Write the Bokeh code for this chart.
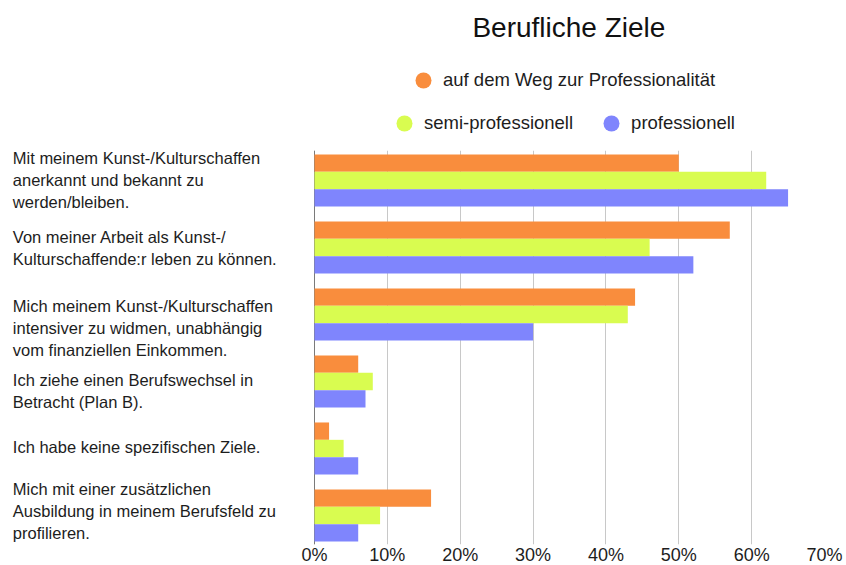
from bokeh.plotting import figure
from bokeh.layouts import column
from bokeh.models import (ColumnDataSource, FixedTicker, PrintfTickFormatter, Span,
                          Label, Legend, LegendItem, Range1d)
from bokeh.core.properties import value
from bokeh.embed import file_html
from bokeh.resources import INLINE

# ---------------- data ----------------
categories = [
    "Mit meinem Kunst-/Kulturschaffen\nanerkannt und bekannt zu\nwerden/bleiben.",
    "Von meiner Arbeit als Kunst-/\nKulturschaffende:r leben zu können.",
    "Mich meinem Kunst-/Kulturschaffen\nintensiver zu widmen, unabhängig\nvom finanziellen Einkommen.",
    "Ich ziehe einen Berufswechsel in\nBetracht (Plan B).",
    "Ich habe keine spezifischen Ziele.",
    "Mich mit einer zusätzlichen\nAusbildung in meinem Berufsfeld zu\nprofilieren.",
]
weg = [50, 57, 44, 6, 2, 16]
semi = [62, 46, 43, 8, 4, 9]
prof = [65, 52, 30, 7, 6, 6]
series_names = ["auf dem Weg zur Professionalität", "semi-professionell", "professionell"]
colors = ["#F98D3D", "#D9FC50", "#7F85FD"]
x_ticks = [0, 10, 20, 30, 40, 50, 60, 70]
title_text = "Berufliche Ziele"

# ---------------- layout constants ----------------
FONT = "Liberation Sans"
TEXT = "#1d1d1d"
W, H = 846, 565
TOP_H = 146                 # header (title + legend)
LEFT_W = 314                # space for category labels (left of 0 %)
BAR_W = 510                 # pixel width of 0..70 %
RIGHT_B = W - LEFT_W - BAR_W
BORDER_TOP = 4
TOP_GAP = 4                 # frame pixels above first bar group
BOTTOM_GAP = 3              # frame pixels below last bar group
FRAME_H = 394
BAR_H = 0.259
PAD = 0.388
n = len(categories)
PITCH = (FRAME_H - TOP_GAP - BOTTOM_GAP) / (n - 1 + 2 * PAD)
PX_PER_UNIT = BAR_W / x_ticks[-1]
X_START = -LEFT_W / PX_PER_UNIT
label_dy = [-0.47, -0.2925, -0.267, -0.152, -0.158, -0.536]
LABEL_X_PX = 12.3
HEAD_W = W - RIGHT_B        # header frame width (frames are aligned in the column)

# ---------------- header: title + legend ----------------
top = figure(width=W, height=TOP_H, x_range=Range1d(0, HEAD_W), y_range=Range1d(TOP_H, 0),
             x_axis_type=None, y_axis_type=None, min_border=0, min_border_right=RIGHT_B,
             title=None, output_backend="svg", toolbar_location=None)
top.grid.visible = False
top.outline_line_color = None
top.add_layout(Label(x=568.4, y=27.2, text=title_text, text_align="center",
                     text_baseline="middle", text_font=FONT, text_font_size="28px",
                     text_color="#111111"))
nan = float("nan")
dummies = [top.scatter(x=[nan], y=[nan], marker="circle", size=16,
                       fill_color=c, line_color=None) for c in colors]
common = dict(orientation="horizontal", padding=0, spacing=18, margin=0,
              glyph_width=40, glyph_height=40, label_standoff=0,
              label_text_font=FONT, label_text_font_size="18.5px", label_text_color=TEXT,
              border_line_color=None, background_fill_alpha=0)
leg1 = Legend(items=[LegendItem(label=series_names[0], renderers=[dummies[0]])],
              location=(403, 46), **common)
leg2 = Legend(items=[LegendItem(label=series_names[1], renderers=[dummies[1]]),
                     LegendItem(label=series_names[2], renderers=[dummies[2]])],
              location=(384, 3.3), **common)
top.add_layout(leg1)
top.add_layout(leg2)

# ---------------- chart (labels left of 0 %, bars right) ----------------
p = figure(frame_width=LEFT_W + BAR_W, frame_height=FRAME_H,
           min_border_left=0, min_border_right=RIGHT_B,
           min_border_top=BORDER_TOP, min_border_bottom=0, title=None,
           x_range=Range1d(X_START, x_ticks[-1]),
           y_range=Range1d(n - 1 + PAD + BOTTOM_GAP / PITCH, -PAD - TOP_GAP / PITCH),
           y_axis_type=None, output_backend="svg", toolbar_location=None)

for k, (vals, col) in enumerate(zip([weg, semi, prof], colors)):
    off = (k - 1) * BAR_H
    src = ColumnDataSource(dict(y=[i + off for i in range(n)], v=vals))
    p.hbar(y="y", right="v", left=0, height=BAR_H, source=src,
           fill_color=col, line_color=None)

p.add_layout(Span(location=0, dimension="height", line_color="#7a7a7a",
                  line_width=1, level="underlay"))

lab_src = ColumnDataSource(dict(x=[X_START + LABEL_X_PX / PX_PER_UNIT] * n,
                                y=[i + d for i, d in zip(range(n), label_dy)],
                                text=categories))
p.text(x="x", y="y", text="text", source=lab_src, text_align="left",
       text_baseline="top", text_font=value(FONT), text_font_size="16.5px",
       text_color=TEXT, text_line_height=1.23)

p.xaxis.ticker = FixedTicker(ticks=x_ticks)
p.xaxis.formatter = PrintfTickFormatter(format="%d%%")
p.xaxis.axis_line_color = None
p.xaxis.major_tick_line_color = None
p.xaxis.minor_tick_line_color = None
p.xaxis.major_tick_out = 0
p.xaxis.major_tick_in = 0
p.xaxis.minor_tick_out = 0
p.xaxis.major_label_standoff = 0
p.xaxis.major_label_text_font = FONT
p.xaxis.major_label_text_font_size = "18px"
p.xaxis.major_label_text_color = TEXT
p.ygrid.visible = False
p.xgrid.grid_line_color = "#c8c8c8"
p.outline_line_color = None

layout = column(top, p)
open("out.html", "w").write(file_html(layout, INLINE))
